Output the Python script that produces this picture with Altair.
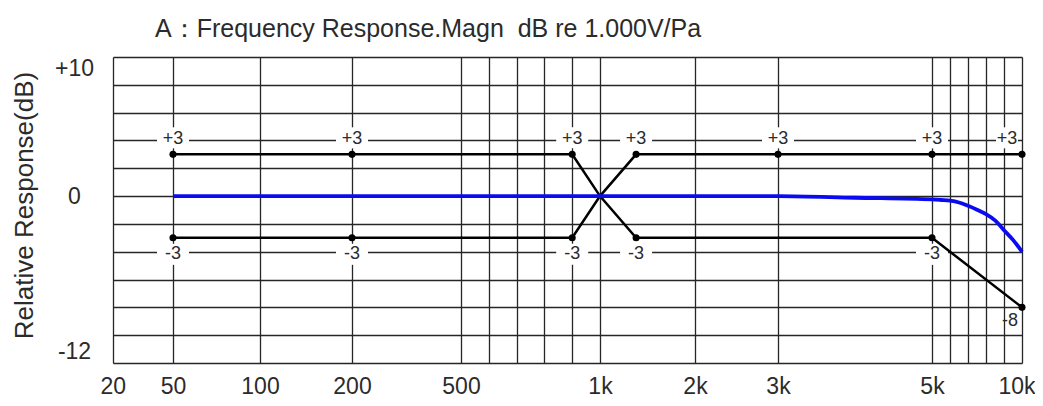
import altair as alt
import pandas as pd

# ---- axis definitions ----
tick_freqs = [20, 50, 100, 200, 500, 1000, 2000, 3000, 5000, 10000]
tick_names = ["20", "50", "100", "200", "500", "1k", "2k", "3k", "5k", "10k"]
grid_freqs = [20, 50, 100, 200, 500, 600, 700, 800, 900, 1000, 2000, 3000,
              5000, 6000, 7000, 8000, 9000, 10000]
db_grid = [-12, -10, -8, -6, -4, -2, 0, 2, 4, 6, 8, 10]

# ---- measured response (blue) ----
resp_freq = [50, 100, 200, 500, 1000, 2000, 3000, 4000, 5000, 5500, 6000, 6500,
             7000, 7500, 8000, 8500, 9000, 9500, 10000]
resp_db = [0, 0, 0, 0, 0, 0, 0, -0.12, -0.24, -0.28, -0.33, -0.46,
           -0.7, -0.98, -1.3, -1.75, -2.45, -3.15, -4.0]

# ---- tolerance limits (black) ----
limA_freq = [50, 200, 900, 1000, 1380, 5000, 10000]
limA_db = [3, 3, 3, 0, -3, -3, -8]
limB_freq = [50, 200, 900, 1000, 1380, 3000, 5000, 10000]
limB_db = [-3, -3, -3, 0, 3, 3, 3, 3]

# ---- marked points and their labels ----
dot_freq = [50, 200, 900, 1380, 3000, 5000, 10000, 50, 200, 900, 1380, 5000, 10000]
dot_db = [3, 3, 3, 3, 3, 3, 3, -3, -3, -3, -3, -3, -8]
dot_text = ["+3"] * 7 + ["-3"] * 5 + ["-8"]

TITLE = "A：Frequency Response.Magn\u00a0\u00a0dB re 1.000V/Pa"
YTITLE = "Relative Response(dB)"

FONT = "Liberation Sans"
TXT = "#2b2b2b"
GRID = "#262626"

resp = pd.DataFrame({"f": resp_freq, "db": resp_db})
lim = pd.concat([
    pd.DataFrame({"f": limA_freq, "db": limA_db, "line": "A", "i": range(len(limA_freq))}),
    pd.DataFrame({"f": limB_freq, "db": limB_db, "line": "B", "i": range(len(limB_freq))}),
])
dots = pd.DataFrame({"f": dot_freq, "db": dot_db, "t": dot_text})
dots["up"] = dots["t"] == "+3"
dots["edge"] = dots["f"] == 10000

# label expression for x axis
xexpr = "''"
for fq, nm in reversed(list(zip(tick_freqs, tick_names))):
    xexpr = f"datum.value == {fq} ? '{nm}' : ({xexpr})"

xscale = alt.Scale(type="linear", domain=tick_freqs,
                   range=[0, 60, 147, 239, 348, 487, 582, 665, 819, 909],
                   zero=False, nice=False)
yscale = alt.Scale(domain=[-12, 10], zero=False, nice=False)

xaxis = alt.Axis(values=grid_freqs, labelExpr=xexpr, title=None, ticks=False,
                 tickSize=0, domain=False, grid=True, gridColor=GRID,
                 gridWidth=1.3, gridOpacity=1, labelFont=FONT, labelFontSize=23,
                 labelColor=TXT, labelPadding=12, labelOverlap=False,
                 labelFlush=True, labelFlushOffset=13)
yaxis = alt.Axis(values=db_grid,
                 labelExpr="datum.value == 10 ? '+10' : datum.value == 0 ? '0' : datum.value == -12 ? '-12' : ''",
                 title=YTITLE, titleFont=FONT, titleFontSize=26,
                 titleFontWeight="normal", titleColor=TXT, titleAngle=270,
                 titleX=-89, titleY=148, titleAlign="center", titleBaseline="middle",
                 ticks=False, tickSize=0, domain=False, grid=True, gridColor=GRID,
                 gridWidth=1.3, gridOpacity=1, labelFont=FONT, labelFontSize=23,
                 labelColor=TXT, labelAlign="center", labelPadding=39,
                 labelFlush=True, labelOverlap=False)

X = alt.X("f:Q", scale=xscale, axis=xaxis)
Y = alt.Y("db:Q", scale=yscale, axis=yaxis)

base_dots = alt.Chart(dots)

box = dict(filled=True, color="white", opacity=1, size=1024, strokeWidth=0)
bg_up = base_dots.transform_filter("datum.up && !datum.edge").mark_point(
    shape="M-1,-1.69H1V-0.375H-1Z", **box).encode(x=X, y=Y)
bg_dn = base_dots.transform_filter("!datum.up && !datum.edge").mark_point(
    shape="M-1,0.375H1V1.69H-1Z", **box).encode(x=X, y=Y)
bg_eu = base_dots.transform_filter("datum.up && datum.edge").mark_point(
    shape="M-1.625,-1.69H-0.25V-0.375H-1.625Z", **box).encode(x=X, y=Y)

limits = alt.Chart(lim).mark_line(color="black", strokeWidth=2.5).encode(
    x=X, y=Y, detail="line:N", order="i:Q")

blue = alt.Chart(resp).mark_line(color="#0b0bf2", strokeWidth=3.8,
                                 interpolate="monotone").encode(x=X, y=Y)

pts = base_dots.mark_circle(size=50, color="black", opacity=1).encode(x=X, y=Y)

tstyle = dict(font=FONT, fontSize=18, color=TXT)
t_up = base_dots.transform_filter("datum.up && !datum.edge").mark_text(
    dy=-15, **tstyle).encode(x=X, y=Y, text="t:N")
t_dn = base_dots.transform_filter("!datum.up && !datum.edge").mark_text(
    dy=16, **tstyle).encode(x=X, y=Y, text="t:N")
t_eu = base_dots.transform_filter("datum.up && datum.edge").mark_text(
    dy=-15, dx=-15, **tstyle).encode(x=X, y=Y, text="t:N")
t_ed = base_dots.transform_filter("!datum.up && datum.edge").mark_text(
    dy=14, dx=-12, **tstyle).encode(x=X, y=Y, text="t:N")

chart = alt.layer(bg_up, bg_dn, bg_eu, limits, blue, pts, t_up, t_dn, t_eu, t_ed).properties(
    width=909, height=306,
    padding={"left": 105, "top": 49, "right": 13, "bottom": 35},
    autosize="none",
    title=alt.TitleParams(text=TITLE, frame="group", anchor="start", dx=42,
                          offset=15, font=FONT, fontSize=25,
                          fontWeight="normal", color=TXT),
).configure_view(stroke=GRID, strokeWidth=1.5).configure(background="white")

chart.save("out.html", embed_options={"renderer": "svg", "actions": False})
